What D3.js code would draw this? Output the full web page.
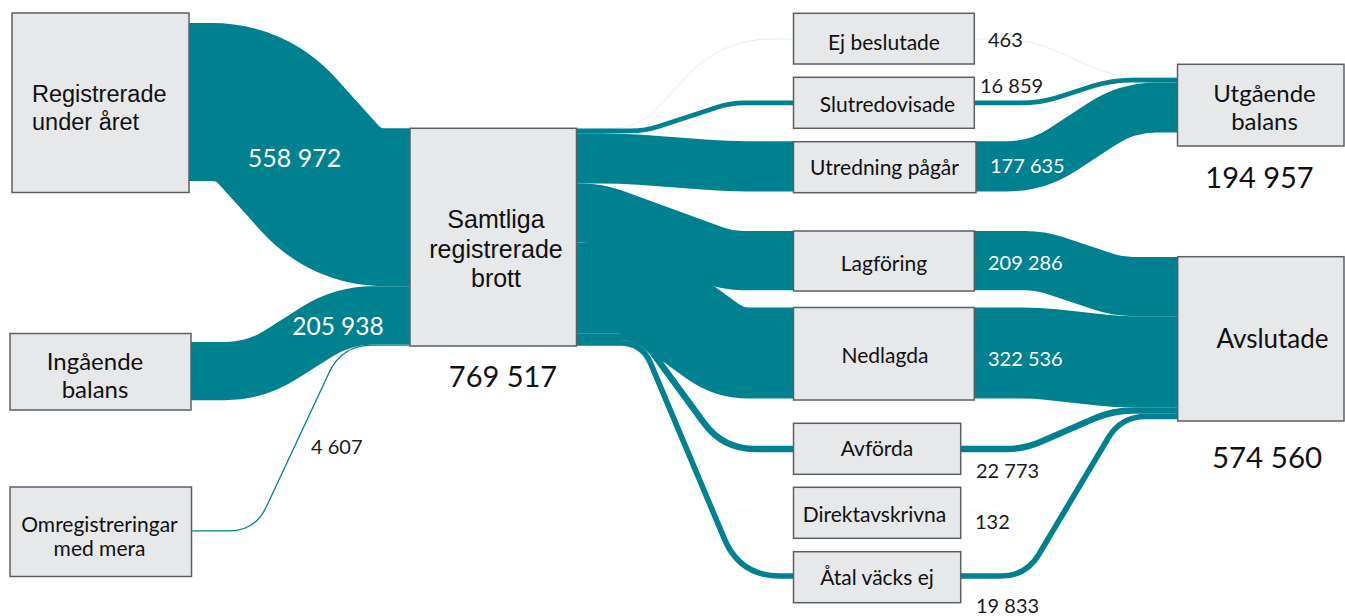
<!DOCTYPE html>
<html><head><meta charset="utf-8">
<script src="https://cdn.jsdelivr.net/npm/d3@7"></script>
<style>body{margin:0;background:#fff;} svg{display:block}</style>
</head><body><svg id="c" width="1345" height="616"></svg>
<script>
// ---------- DATA ----------
const nodeNames = ["Registrerade under året","Ingående balans","Omregistreringar med mera","Samtliga registrerade brott",
  "Ej beslutade","Slutredovisade","Utredning pågår","Lagföring","Nedlagda","Avförda","Direktavskrivna","Åtal väcks ej",
  "Utgående balans","Avslutade"];
const nodeLabelLines = [["Registrerade","under året"],["Ingående","balans"],["Omregistreringar","med mera"],["Samtliga","registrerade","brott"],
  ["Ej beslutade"],["Slutredovisade"],["Utredning pågår"],["Lagföring"],["Nedlagda"],["Avförda"],["Direktavskrivna"],["Åtal väcks ej"],
  ["Utgående","balans"],["Avslutade"]];
const S = "Samtliga registrerade brott";
const linkSources = ["Registrerade under året","Ingående balans","Omregistreringar med mera",S,S,S,S,S,S,S,S,
  "Ej beslutade","Slutredovisade","Utredning pågår","Lagföring","Nedlagda","Avförda","Direktavskrivna","Åtal väcks ej"];
const linkTargets = [S,S,S,"Ej beslutade","Slutredovisade","Utredning pågår","Lagföring","Nedlagda","Avförda","Direktavskrivna","Åtal väcks ej",
  "Utgående balans","Utgående balans","Utgående balans","Avslutade","Avslutade","Avslutade","Avslutade","Avslutade"];
const linkValues = [558972,205938,4607,463,16859,177635,209286,322536,22773,132,19833,463,16859,177635,209286,322536,22773,132,19833];
const totalNodes = [S,"Utgående balans","Avslutade"];

// ---------- LAYOUT (positions/styles only) ----------
const nodeLayout = {
  "Registrerade under året":{x0:12,y0:13,x1:189,y1:192.5,outY:23,font:"Liberation Sans, Arial",size:23.5,anchor:"start",tx:32,ty:101.7,lh:28.3},
  "Ingående balans":{x0:10,y0:333.5,x1:191,y1:410,outY:342,font:"Lato",size:24,anchor:"middle",tx:95,ty:370,lh:28},
  "Omregistreringar med mera":{x0:10,y0:487,x1:191.5,y1:576.5,outY:530.3,font:"Lato",size:21,anchor:"middle",tx:99.5,ty:532,lh:24},
  [S]:{x0:410,y0:128.3,x1:576.5,y1:346,inY:128.3,outY:128.3,font:"Liberation Sans, Arial",size:25,anchor:"middle",tx:496,ty:228.3,lh:29.3},
  "Ej beslutade":{x0:793.5,y0:13.3,x1:974.3,y1:64,inY:38.9,outY:38.9,font:"Lato",size:21,anchor:"middle",tx:884,ty:50,lh:0},
  "Slutredovisade":{x0:793.5,y0:77.3,x1:974.3,y1:128.3,inY:100.6,outY:100.6,font:"Lato",size:21,anchor:"middle",tx:887.5,ty:111.7,lh:0},
  "Utredning pågår":{x0:793.5,y0:141.7,x1:976,y1:192.7,inY:141.2,outY:141.2,font:"Lato",size:21,anchor:"middle",tx:884.5,ty:175,lh:0},
  "Lagföring":{x0:793.5,y0:231,x1:974.3,y1:291,inY:231,outY:231,font:"Lato",size:21,anchor:"middle",tx:884,ty:271,lh:0},
  "Nedlagda":{x0:793.5,y0:307.5,x1:974.3,y1:400,inY:307.5,outY:307.5,font:"Lato",size:21,anchor:"middle",tx:885,ty:363,lh:0},
  "Avförda":{x0:793.5,y0:423.3,x1:960.7,y1:474.3,inY:445.8,outY:445.8,font:"Lato",size:21,anchor:"middle",tx:877,ty:455.7,lh:0},
  "Direktavskrivna":{x0:793.5,y0:487.3,x1:960.7,y1:538.3,inY:512,outY:512,font:"Lato",size:21,anchor:"middle",tx:874.5,ty:521.7,lh:0},
  "Åtal väcks ej":{x0:793.5,y0:551.7,x1:960.7,y1:602.7,inY:573.2,outY:573.2,font:"Lato",size:21,anchor:"middle",tx:877,ty:585,lh:0},
  "Utgående balans":{x0:1177.5,y0:64.3,x1:1344,y1:146,inY:77.5,font:"Lato",size:24,anchor:"middle",tx:1264.5,ty:101.7,lh:28.3},
  "Avslutade":{x0:1177.7,y0:256.7,x1:1344,y1:421,inY:257,font:"Lato",size:26,anchor:"middle",tx:1272.5,ty:348,lh:0}
};
const totalLayout = {
  [S]:{x:503,y:387,size:29},
  "Utgående balans":{x:1259.5,y:188,size:29},
  "Avslutade":{x:1267,y:468,size:29.5}
};
// per link: diagonal corner x positions ax,bx ; corner radii r0,r1 ; value label
const linkLayout = [
  {ax:251,bx:346,r0:40,r1:40, lx:294.5,ly:167,la:"middle",lc:"#fff",ls:25},
  {ax:255,bx:343,r0:30,r1:30, lx:338,ly:335,la:"middle",lc:"#fff",ls:24.5},
  {ax:255,bx:342,r0:26,r1:30, lx:311,ly:454,la:"start",lc:"#1a1a1a",ls:20},
  {ax:638,bx:722,r0:25,r1:50},
  {ax:645,bx:730,r0:15,r1:15},
  {ax:620,bx:727,r0:20,r1:20},
  {ax:597,bx:728,r0:15,r1:15},
  {ax:639,bx:729,r0:20,r1:20},
  {ax:641,bx:723,r0:22,r1:32},
  {ax:644,bx:722,r0:28,r1:32},
  {ax:642,bx:740,r0:22,r1:40},
  {ax:1030,bx:1115,r0:30,r1:30, lx:988,ly:47,la:"start",lc:"#1a1a1a",ls:20},
  {ax:1040,bx:1112,r0:20,r1:20, lx:980,ly:93,la:"start",lc:"#1a1a1a",ls:20},
  {ax:1037,bx:1127,r0:30,r1:30, lx:990,ly:173,la:"start",lc:"#fff",ls:20},
  {ax:1040,bx:1118,r0:15,r1:15, lx:988,ly:270,la:"start",lc:"#fff",ls:20},
  {ax:1037,bx:1117,r0:15,r1:15, lx:988,ly:366,la:"start",lc:"#fff",ls:20},
  {ax:1024,bx:1113,r0:18,r1:20, lx:976,ly:478,la:"start",lc:"#1a1a1a",ls:20},
  {ax:1000,bx:1110,r0:45,r1:45, lx:975,ly:529,la:"start",lc:"#1a1a1a",ls:20},
  {ax:1026,bx:1121,r0:25,r1:25, lx:976,ly:613,la:"start",lc:"#1a1a1a",ls:20}
];

// ---------- BUILD ----------
const TEAL = "#00818f";
const svg = d3.select("#c");
const fmt = d3.formatLocale({decimal:",",thousands:"\u2009",grouping:[3],currency:["",""]}).format(",d");
const fmtS = v => fmt(v).replace(/\u2009/g," ");

const links = linkValues.map((v,i)=>({source:linkSources[i],target:linkTargets[i],value:v,lay:linkLayout[i]}));
const samtligaTotal = d3.sum(links.filter(l=>l.target===S), l=>l.value);
const wScale = d3.scaleLinear().domain([0, samtligaTotal]).range([0, nodeLayout[S].y1 - nodeLayout[S].y0 - 0.3]);

const outCum = {}, inCum = {};
links.forEach(l=>{
  const w = wScale(l.value); l.w = w;
  const sn = nodeLayout[l.source], tn = nodeLayout[l.target];
  outCum[l.source] = outCum[l.source]||0; inCum[l.target] = inCum[l.target]||0;
  l.x0 = sn.x1; l.y0 = sn.outY + outCum[l.source] + w/2; outCum[l.source] += w;
  l.x1 = tn.x0; l.y1 = tn.inY + inCum[l.target] + w/2; inCum[l.target] += w;
});

function linkPath(l){
  const {ax,bx} = l.lay;
  const dx = bx-ax, dy = l.y1-l.y0, len = Math.hypot(dx,dy);
  const ux = dx/len, uy = dy/len;
  const r0 = Math.min(l.lay.r0, ax-l.x0, len/2), r1 = Math.min(l.lay.r1, l.x1-bx, len/2);
  const p = d3.path();
  p.moveTo(l.x0,l.y0);
  p.lineTo(ax-r0,l.y0);
  p.quadraticCurveTo(ax,l.y0, ax+r0*ux, l.y0+r0*uy);
  p.lineTo(bx-r1*ux, l.y1-r1*uy);
  p.quadraticCurveTo(bx,l.y1, bx+r1, l.y1);
  p.lineTo(l.x1,l.y1);
  return p.toString();
}

svg.append("g").attr("fill","none").selectAll("path").data(links).join("path")
  .attr("d",linkPath).attr("stroke",TEAL).attr("stroke-width",d=>d.w).attr("stroke-linecap","butt");

const nodes = nodeNames.map((n,i)=>({name:n,lines:nodeLabelLines[i],lay:nodeLayout[n]}));
const ng = svg.append("g").selectAll("g").data(nodes).join("g");
ng.append("rect").attr("x",d=>d.lay.x0).attr("y",d=>d.lay.y0)
  .attr("width",d=>d.lay.x1-d.lay.x0).attr("height",d=>d.lay.y1-d.lay.y0)
  .attr("fill","#e6e8ea").attr("stroke","#5b6067").attr("stroke-width",1.5);
ng.each(function(d){
  const t = d3.select(this).append("text").attr("font-family",d.lay.font).attr("font-size",d.lay.size)
    .attr("fill","#111").attr("text-anchor",d.lay.anchor);
  d.lines.forEach((ln,i)=>t.append("tspan").attr("x",d.lay.tx).attr("y",d.lay.ty+i*d.lay.lh).text(ln));
});

// link value labels
svg.append("g").selectAll("text").data(links.filter(l=>l.lay.lx!==undefined)).join("text")
  .attr("x",d=>d.lay.lx).attr("y",d=>d.lay.ly).attr("text-anchor",d=>d.lay.la)
  .attr("fill",d=>d.lay.lc).attr("font-family","Lato").attr("font-size",d=>d.lay.ls)
  .text(d=>fmtS(d.value));

// node totals
svg.append("g").selectAll("text").data(totalNodes).join("text")
  .attr("x",d=>totalLayout[d].x).attr("y",d=>totalLayout[d].y).attr("text-anchor","middle")
  .attr("font-family","Lato").attr("font-size",d=>totalLayout[d].size).attr("fill","#111")
  .text(d=>fmtS(d3.sum(links.filter(l=>l.target===d), l=>l.value)));
</script></body></html>
